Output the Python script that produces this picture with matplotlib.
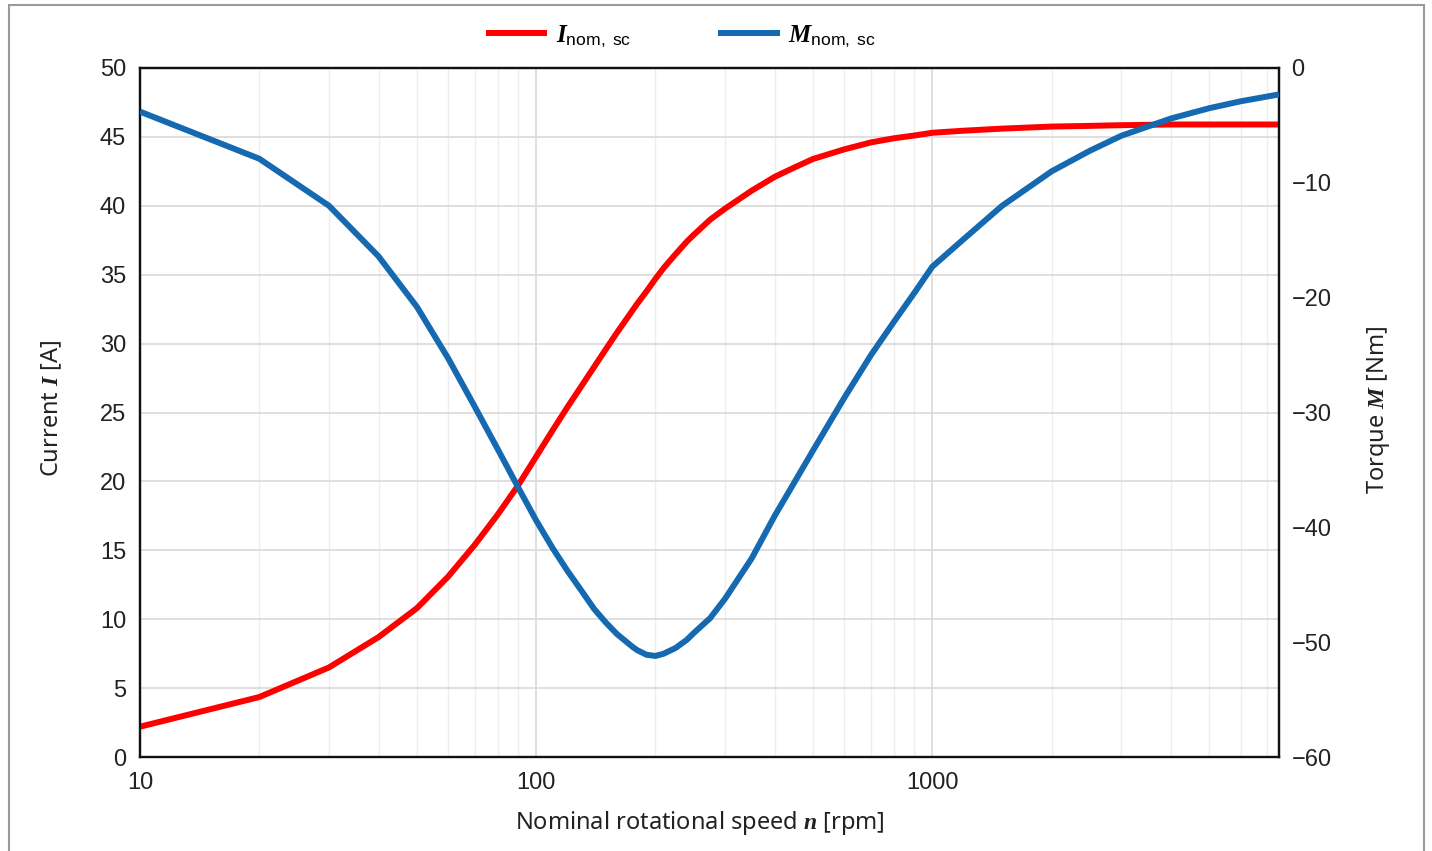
import numpy as np
import matplotlib
matplotlib.use("Agg")
import matplotlib.pyplot as plt
from matplotlib.ticker import LogLocator, NullFormatter
from matplotlib.patches import Rectangle

plt.rcParams['mathtext.fontset'] = 'custom'
plt.rcParams['mathtext.it'] = 'Liberation Serif:italic:bold'
plt.rcParams['mathtext.rm'] = 'Liberation Sans'

# --- data ---
speed = [10, 20, 30, 40, 50, 60, 70, 80, 90, 100, 110, 120, 130, 140, 150, 160,
         175, 180, 190, 200, 210, 225, 240, 250, 275, 300, 350, 400, 450, 500,
         600, 700, 800, 900, 1000, 1200, 1500, 2000, 2500, 3000, 4000, 5000,
         6000, 7500]
current = [2.2, 4.35, 6.5, 8.7, 10.8, 13.1, 15.4, 17.6, 19.7, 21.8, 23.7, 25.4,
           26.9, 28.3, 29.6, 30.8, 32.4, 32.9, 33.8, 34.7, 35.5, 36.5, 37.4, 37.9,
           39.0, 39.8, 41.1, 42.1, 42.8, 43.4, 44.1, 44.6, 44.9, 45.1, 45.3, 45.45,
           45.6, 45.75, 45.8, 45.85, 45.9, 45.9, 45.9, 45.9]
torque = [-3.8, -7.9, -12.0, -16.4, -20.8, -25.3, -29.5, -33.2, -36.5, -39.4,
          -41.8, -43.8, -45.5, -47.1, -48.3, -49.3, -50.4, -50.7, -51.1, -51.2,
          -51.0, -50.5, -49.8, -49.2, -47.9, -46.2, -42.7, -39.0, -36.0, -33.3,
          -28.7, -25.0, -22.1, -19.6, -17.3, -14.9, -12.0, -9.0, -7.2, -5.9,
          -4.4, -3.5, -2.9, -2.3]

x_ticks = [10, 100, 1000]
left_ticks = list(range(0, 51, 5))
right_ticks = list(range(-60, 1, 10))

red = '#ff0000'
blue = '#1469b0'

fig = plt.figure(figsize=(14.32, 8.51), dpi=100)
ax = fig.add_axes([140 / 1432, 1 - 757 / 851, 1139 / 1432, 689 / 851])
ax2 = ax.twinx()

l1, = ax.plot(speed, current, color=red, lw=4.3, solid_capstyle='butt',
              solid_joinstyle='round', zorder=3)
l2, = ax2.plot(speed, torque, color=blue, lw=4.3, solid_capstyle='butt',
               solid_joinstyle='round', zorder=3)

ax.set_xscale('log')
ax.set_xlim(10, 7500)
ax.set_ylim(0, 50)
ax2.set_ylim(-60, 0)

ax.set_xticks(x_ticks)
ax.set_xticklabels([str(t) for t in x_ticks])
ax.xaxis.set_minor_locator(LogLocator(base=10, subs=np.arange(2, 10)))
ax.xaxis.set_minor_formatter(NullFormatter())
ax.set_yticks(left_ticks)
ax2.set_yticks(right_ticks)
ax2.set_yticklabels([str(t).replace('-', '\u2212') for t in right_ticks])

ax.grid(True, which='major', axis='both', color='#d9d9d9', lw=1.2)
ax.grid(True, which='minor', axis='x', color='#eeeeee', lw=1.0)
ax.set_axisbelow(True)

ax.tick_params(axis='x', which='both', length=0, pad=11, labelsize=17)
ax.tick_params(axis='y', length=0, pad=10, labelsize=17)
ax2.tick_params(axis='y', length=0, pad=9, labelsize=17)
for lab in ax.get_xticklabels() + ax.get_yticklabels() + ax2.get_yticklabels():
    lab.set_family('Liberation Sans')
    lab.set_color('#222222')

for a in (ax, ax2):
    for s in a.spines.values():
        s.set_color('#111111')
        s.set_linewidth(1.6)
ax.spines['bottom'].set_color('#444444')

fig.text(52 / 1432, 1 - 408 / 851, 'Current $I$ [A]', rotation=90, ha='center',
         va='center', fontsize=17, family='Noto Sans', color='#222222')
fig.text(1379 / 1432, 1 - 410 / 851, 'Torque $M$ [Nm]', rotation=90, ha='center',
         va='center', fontsize=17, family='Noto Sans', color='#222222')
fig.text(700 / 1432, 1 - 823 / 851, 'Nominal rotational speed $n$ [rpm]',
         ha='center', va='center', fontsize=17, family='Noto Sans', color='#222222')

fig.legend([l1, l2], [r'$I_{\mathrm{nom,\ sc}}$', r'$M_{\mathrm{nom,\ sc}}$'],
           loc='center', bbox_to_anchor=(681 / 1432, 1 - 36 / 851), ncol=2,
           frameon=False, fontsize=18, handlelength=2.45, columnspacing=3.5,
           handletextpad=0.35)

fig.patches.append(Rectangle((9 / 1432, -0.01), 1415 / 1432, 1 - 4.5 / 851 + 0.01,
                             transform=fig.transFigure, fill=False,
                             edgecolor='#9a9a9a', lw=1.5))

fig.savefig('out.png', dpi=100)
